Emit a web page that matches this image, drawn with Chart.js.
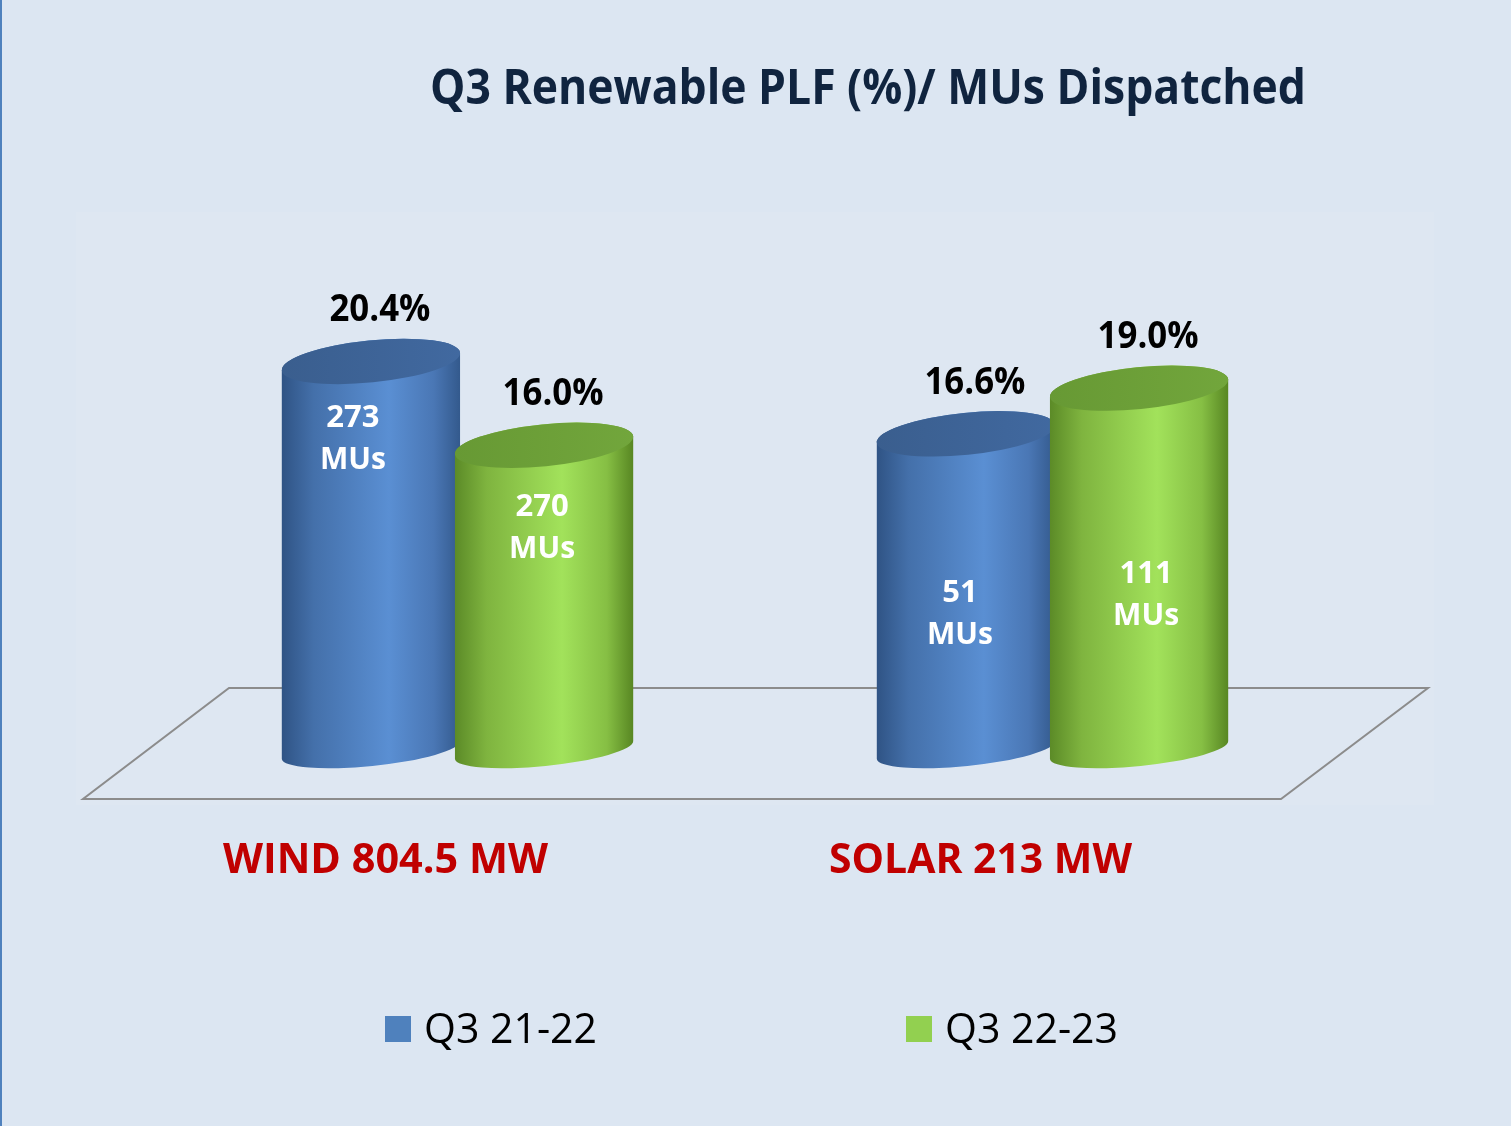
<!DOCTYPE html>
<html>
<head>
<meta charset="utf-8">
<title>Q3 Renewable PLF (%)/ MUs Dispatched</title>
<script src="https://cdn.jsdelivr.net/npm/chart.js@4.4.0/dist/chart.umd.min.js"></script>
<style>
    html, body { margin: 0; padding: 0; background: #dce6f2; }
    #wrap { width: 1511px; height: 1126px; }
</style>
</head>
<body>
<div id="wrap"><canvas id="plfChart" width="1511" height="1126"></canvas></div>
<script>
// Chart data
const categories = ['WIND 804.5 MW', 'SOLAR 213 MW'];
const seriesNames = ['Q3 21-22', 'Q3 22-23'];
const plfQ3_2122 = [20.4, 16.6];   // PLF %
const plfQ3_2223 = [16.0, 19.0];
const musQ3_2122 = [273, 51];      // MUs dispatched
const musQ3_2223 = [270, 111];

const seriesColors = ['#4f81bd', '#92d050'];

// where the MUs text sits inside each cylinder: [dx px, y in axis units]
const muLabelPos = [
    [[-18, 16.96], [-6, 7.77]],
    [[-2, 12.28], [7, 8.77]]
];

// shading for the cylinder sides and tops
const sideStops = [
    [[0, '#2f5384'], [0.18, '#4470aa'], [0.6, '#5a8fd3'], [0.85, '#4a77b5'], [1, '#33598c']],
    [[0, '#5b8a27'], [0.18, '#7fb43f'], [0.6, '#a2e25b'], [0.85, '#86bf44'], [1, '#578622']]
];
const topStops = [
    [[0, '#3a5e8e'], [1, '#4169a0']],
    [[0, '#679934'], [1, '#72a63c']]
];

function drawText(ctx, text, x, y, size, weight, color, align, width) {
    ctx.save();
    ctx.font = weight + ' ' + size + 'px "Open Sans"';
    const w = ctx.measureText(text).width;
    const s = width ? width / w : 1;
    ctx.translate(x, y);
    ctx.scale(s, 1);
    ctx.textAlign = align;
    ctx.textBaseline = 'alphabetic';
    ctx.fillStyle = color;
    ctx.fillText(text, 0, 0);
    ctx.restore();
}

function makeGrad(ctx, x0, x1, stops) {
    const g = ctx.createLinearGradient(x0, 0, x1, 0);
    stops.forEach(s => g.addColorStop(s[0], s[1]));
    return g;
}

function drawCylinder(ctx, bar, ds) {
    const p = bar.getProps(['x', 'y', 'base', 'width'], true);
    const rx = p.width / 2 + 3;
    const rot = -0.1;
    const ryTop = 21, ryBot = 16;

    ctx.save();
    ctx.beginPath();
    ctx.ellipse(p.x, p.base, rx, ryBot, rot, 0, Math.PI);
    ctx.ellipse(p.x, p.y, rx, ryTop, rot, Math.PI, 2 * Math.PI);
    ctx.closePath();
    ctx.fillStyle = makeGrad(ctx, p.x - rx, p.x + rx, sideStops[ds]);
    ctx.fill();

    ctx.beginPath();
    ctx.ellipse(p.x, p.y, rx, ryTop, rot, 0, 2 * Math.PI);
    ctx.fillStyle = makeGrad(ctx, p.x - rx, p.x + rx, topStops[ds]);
    ctx.fill();
    ctx.restore();
}

const decorPlugin = {
    id: 'decor',
    beforeDraw(chart) {
        const ctx = chart.ctx;
        ctx.save();
        ctx.fillStyle = '#dce6f2';
        ctx.fillRect(0, 0, chart.width, chart.height);
        // faint plot area
        ctx.fillStyle = 'rgba(255,255,255,0.06)';
        ctx.fillRect(76, 212, 1358, 593);
        // left border line
        ctx.fillStyle = '#4f81bd';
        ctx.fillRect(0, 0, 2, chart.height);
        ctx.restore();
    },
    beforeDatasetsDraw(chart) {
        // floor of the 3D plot
        const ctx = chart.ctx;
        ctx.save();
        ctx.beginPath();
        ctx.moveTo(229, 688);
        ctx.lineTo(1428, 688);
        ctx.lineTo(1281, 799);
        ctx.lineTo(83, 799);
        ctx.closePath();
        ctx.strokeStyle = '#8c8c8c';
        ctx.lineWidth = 2;
        ctx.stroke();
        ctx.restore();
    },
    afterDatasetsDraw(chart) {
        const ctx = chart.ctx;
        const yScale = chart.scales.y;
        const xScale = chart.scales.x;
        const mus = [musQ3_2122, musQ3_2223];

        chart.data.datasets.forEach((dataset, ds) => {
            const meta = chart.getDatasetMeta(ds);
            meta.data.forEach(bar => drawCylinder(ctx, bar, ds));
        });

        chart.data.datasets.forEach((dataset, ds) => {
            const meta = chart.getDatasetMeta(ds);
            meta.data.forEach((bar, i) => {
                const p = bar.getProps(['x', 'y'], true);
                // PLF value above the cylinder
                drawText(ctx, dataset.data[i].toFixed(1) + '%', p.x + 9, p.y - 40,
                    38, 'bold', '#000000', 'center', 101);
                // MUs inside
                const pos = muLabelPos[ds][i];
                const ly = yScale.getPixelForValue(pos[1]);
                drawText(ctx, String(mus[ds][i]), p.x + pos[0], ly, 31, 'bold', '#ffffff', 'center');
                drawText(ctx, 'MUs', p.x + pos[0], ly + 42, 31, 'bold', '#ffffff', 'center', 66);
            });
        });

        // category labels under the floor
        const catWidths = [325, 303];
        categories.forEach((c, i) => {
            const x = xScale.getPixelForValue(i) - 72;
            drawText(ctx, c, x, 873, 41, 'bold', '#c00000', 'center', catWidths[i]);
        });
    },
    afterDraw(chart) {
        const ctx = chart.ctx;
        // title
        drawText(ctx, 'Q3 Renewable PLF (%)/ MUs Dispatched', 430, 104, 48, 'bold', '#10243f', 'left', 876);
        // legend
        const legendX = [385, 906];
        seriesNames.forEach((name, i) => {
            ctx.fillStyle = seriesColors[i];
            ctx.fillRect(legendX[i], 1016, 26, 26);
            drawText(ctx, name, legendX[i] + 39, 1043, 42, 'normal', '#000000', 'left', 173);
        });
    }
};

new Chart(document.getElementById('plfChart'), {
    type: 'bar',
    data: {
        labels: categories,
        datasets: [
            { label: seriesNames[0], data: plfQ3_2122, backgroundColor: 'rgba(0,0,0,0)', borderWidth: 0 },
            { label: seriesNames[1], data: plfQ3_2223, backgroundColor: 'rgba(0,0,0,0)', borderWidth: 0 }
        ]
    },
    options: {
        responsive: false,
        animation: false,
        events: [],
        layout: { padding: { left: 160, right: 161, top: 331, bottom: 376 } },
        datasets: { bar: { barPercentage: 1.0, categoryPercentage: 0.582 } },
        scales: {
            x: { display: false },
            y: { display: false, min: 0, max: 22 }
        },
        plugins: {
            legend: { display: false },
            title: { display: false },
            tooltip: { enabled: false }
        }
    },
    plugins: [decorPlugin]
});
</script>
</body>
</html>
